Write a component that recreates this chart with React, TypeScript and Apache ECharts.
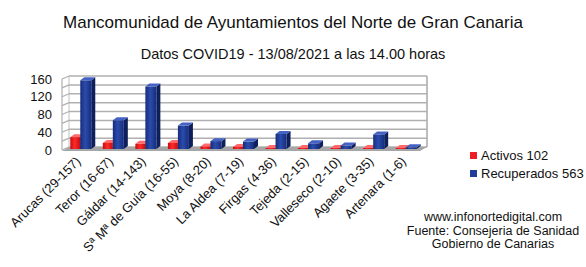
import React, { useEffect, useRef } from "react";
import * as echarts from "echarts";

const categories = [
  "Arucas (29-157)",
  "Teror (16-67)",
  "Gáldar (14-143)",
  "Sª Mª de Guía (16-55)",
  "Moya (8-20)",
  "La Aldea (7-19)",
  "Firgas (4-36)",
  "Tejeda (2-15)",
  "Valleseco (2-10)",
  "Agaete (3-35)",
  "Artenara (1-6)",
];
const activos = [29, 16, 14, 16, 8, 7, 4, 2, 2, 3, 1];
const recuperados = [157, 67, 143, 55, 20, 19, 36, 15, 10, 35, 6];
const seriesNames = ["Activos 102", "Recuperados 563"];
const yTicks = [0, 20, 40, 60, 80, 100, 120, 140, 160];
const titleText = "Mancomunidad de Ayuntamientos del Norte de Gran Canaria";
const subtitleText = "Datos COVID19 - 13/08/2021 a las 14.00 horas";
const footerLines = ["www.infonortedigital.com", "Fuente: Consejeria de Sanidad", "Gobierno de Canarias"];

const FONT = "Liberation Sans, Arial, sans-serif";
const WALL_DX = 7;
const WALL_DY = -3;
const BAR_DX = 4;
const BAR_DY = -3;

const palettes = [
  { legend: "#ee1c24", edge: "#c40d12", mid: "#ff2a2a", side: "#990a0a", top: "#ff6a6a" },
  { legend: "#1f3d99", edge: "#152c7c", mid: "#2b4cac", side: "#0f1f5c", top: "#4462c4" },
];

function barRenderer(seriesIdx: number) {
  const offset = seriesIdx === 0 ? -8 : 2;
  const w = seriesIdx === 0 ? 10 : 11;
  const p = palettes[seriesIdx];
  return (params: any, api: any) => {
    const cat = api.value(0);
    const val = api.value(1);
    const base = api.coord([cat, 0]);
    const top = api.coord([cat, val]);
    const left = base[0] + offset;
    const by = base[1] - 1;
    const ty = Math.min(top[1], by - 1);
    const grad = new echarts.graphic.LinearGradient(0, 0, 1, 0, [
      { offset: 0, color: p.edge },
      { offset: 0.45, color: p.mid },
      { offset: 1, color: p.edge },
    ]);
    return {
      type: "group",
      children: [
        {
          type: "polygon",
          shape: {
            points: [
              [left + w, ty],
              [left + w + BAR_DX, ty + BAR_DY],
              [left + w + BAR_DX, by + BAR_DY],
              [left + w, by],
            ],
          },
          style: { fill: p.side },
        },
        {
          type: "polygon",
          shape: {
            points: [
              [left, ty],
              [left + BAR_DX, ty + BAR_DY],
              [left + w + BAR_DX, ty + BAR_DY],
              [left + w, ty],
            ],
          },
          style: { fill: p.top },
        },
        {
          type: "rect",
          shape: { x: left, y: ty, width: w, height: by - ty },
          style: { fill: grad },
        },
      ],
    };
  };
}

function wallRenderer(params: any, api: any) {
  const v = api.value(1);
  const cs = params.coordSys;
  const x0 = cs.x;
  const x1 = cs.x + cs.width;
  const y = api.coord([0, v])[1];
  const children: any[] = [
    {
      type: "line",
      shape: { x1: x0 + WALL_DX, y1: y + WALL_DY, x2: x1 + WALL_DX, y2: y + WALL_DY },
      style: { stroke: "#b0b0b0", lineWidth: 1.5 },
    },
    {
      type: "line",
      shape: { x1: x0, y1: y, x2: x0 + WALL_DX, y2: y + WALL_DY },
      style: { stroke: "#b0b0b0", lineWidth: 1.2 },
    },
  ];
  if (params.dataIndex === 0) {
    const yTop = api.coord([0, yTicks[yTicks.length - 1]])[1];
    children.push(
      {
        type: "line",
        shape: { x1: x0, y1: yTop, x2: x0, y2: y },
        style: { stroke: "#b0b0b0", lineWidth: 1.2 },
      },
      {
        type: "line",
        shape: { x1: x0 + WALL_DX, y1: yTop + WALL_DY, x2: x0 + WALL_DX, y2: y + WALL_DY },
        style: { stroke: "#c0c0c0", lineWidth: 1 },
      },
      {
        type: "line",
        shape: { x1: x1 + WALL_DX, y1: yTop + WALL_DY, x2: x1 + WALL_DX, y2: y + WALL_DY },
        style: { stroke: "#a8a8a8", lineWidth: 1.5 },
      },
      {
        type: "polygon",
        shape: {
          points: [
            [x0, y + 1],
            [x1, y + 1],
            [x1 + WALL_DX, y + WALL_DY],
            [x0 + WALL_DX, y + WALL_DY],
          ],
        },
        style: { fill: "#a6a6a6" },
      }
    );
  }
  return { type: "group", children };
}

export default function App() {
  const ref = useRef<HTMLDivElement>(null);
  useEffect(() => {
    document.body.style.margin = "0";
    if (!ref.current) return;
    const chart = echarts.init(ref.current, undefined, { renderer: "svg" });
    chart.setOption({
      animation: false,
      backgroundColor: "#ffffff",
      textStyle: { fontFamily: FONT },
      title: [
        {
          text: titleText,
          left: "center",
          top: 9,
          textStyle: { fontSize: 17, fontWeight: "normal", color: "#111", fontFamily: FONT },
        },
        {
          text: subtitleText,
          left: "center",
          top: 41,
          textStyle: { fontSize: 14.5, fontWeight: "normal", color: "#111", fontFamily: FONT },
        },
      ],
      legend: {
        data: seriesNames,
        orient: "vertical",
        left: 465,
        top: 144,
        icon: "rect",
        itemWidth: 7,
        itemHeight: 7,
        itemGap: 5,
        textStyle: { fontSize: 13, color: "#111", fontFamily: FONT, padding: [0, 0, 0, -1] },
      },
      grid: { left: 62, right: 166, top: 79, bottom: 117, containLabel: false },
      xAxis: {
        type: "category",
        data: categories,
        axisLine: { show: false },
        axisTick: { show: false },
        axisLabel: {
          interval: 0,
          rotate: 45,
          fontSize: 13,
          margin: 9,
          color: "#111",
          fontFamily: FONT,
        },
      },
      yAxis: {
        type: "value",
        min: 0,
        max: 160,
        interval: 20,
        splitLine: { show: false },
        axisLine: { show: false },
        axisTick: { show: false },
        axisLabel: {
          fontSize: 13,
          color: "#111",
          margin: 10,
          fontFamily: FONT,
          formatter: (v: number) => (v % 40 === 0 ? String(v) : ""),
        },
      },
      graphic: footerLines.map((t, i) => ({
        type: "text",
        x: 493,
        y: 217 + i * 13.5,
        style: {
          text: t,
          align: "center",
          verticalAlign: "middle",
          fontSize: 12.5,
          fill: "#111",
          fontFamily: FONT,
        },
      })),
      series: [
        {
          type: "custom",
          name: "wall",
          silent: true,
          renderItem: wallRenderer,
          data: yTicks.map((v) => [0, v]),
          encode: { x: 0, y: 1 },
          z: 1,
        },
        {
          type: "custom",
          name: seriesNames[0],
          renderItem: barRenderer(0),
          itemStyle: { color: palettes[0].legend },
          data: activos.map((v, i) => [i, v]),
          encode: { x: 0, y: 1 },
          z: 2,
        },
        {
          type: "custom",
          name: seriesNames[1],
          renderItem: barRenderer(1),
          itemStyle: { color: palettes[1].legend },
          data: recuperados.map((v, i) => [i, v]),
          encode: { x: 0, y: 1 },
          z: 3,
        },
      ],
    });
    return () => chart.dispose();
  }, []);
  return <div ref={ref} style={{ width: 586, height: 267 }} />;
}
